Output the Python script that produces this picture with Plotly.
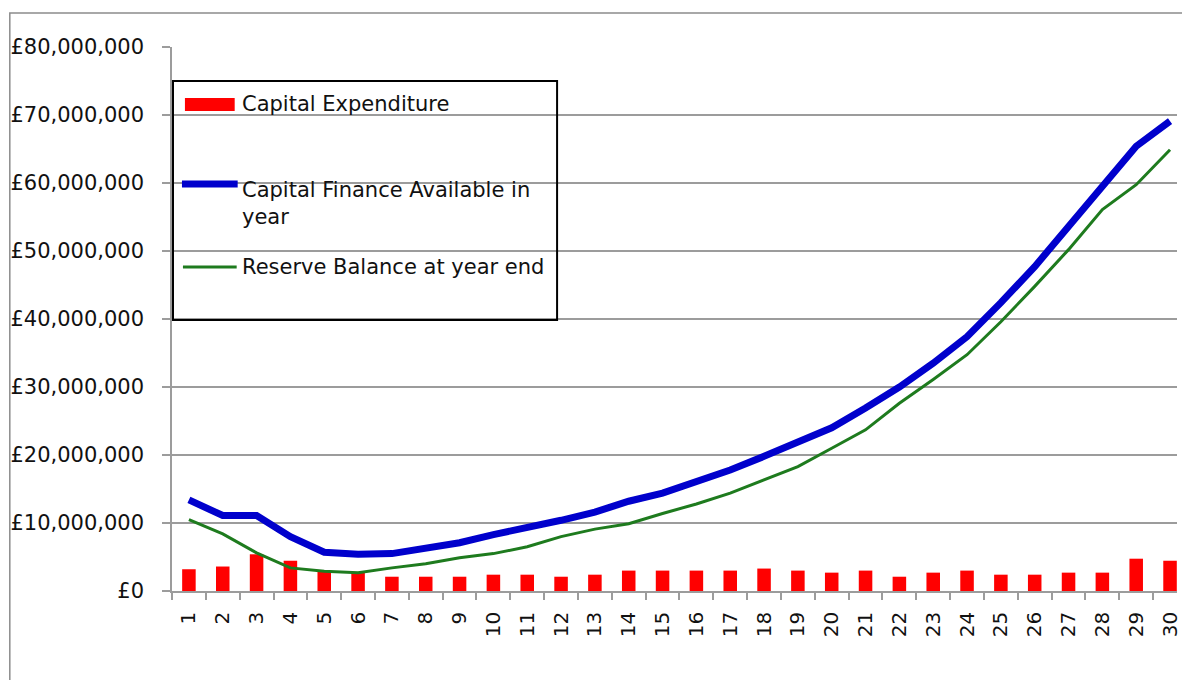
import plotly.graph_objects as go

# ---- data (values in £ millions) ----
years = [str(i) for i in range(1, 31)]
capital_expenditure = [3.2, 3.6, 5.4, 4.45, 2.8, 2.8, 2.1, 2.1, 2.1, 2.4,
                       2.4, 2.1, 2.4, 3.0, 3.0, 3.0, 3.0, 3.3, 3.0, 2.7,
                       3.0, 2.1, 2.7, 3.0, 2.4, 2.4, 2.7, 2.7, 4.75, 4.45]
capital_finance = [13.4, 11.1, 11.1, 8.0, 5.7, 5.4, 5.5, 6.2, 7.1, 8.3,
                   9.3, 10.4, 11.6, 13.2, 14.4, 16.0, 17.8, 19.8, 21.8, 24.0,
                   26.9, 30.0, 33.5, 37.4, 42.4, 47.7, 53.6, 59.5, 65.4, 69.1]
reserve_balance = [10.5, 8.4, 5.6, 3.4, 2.9, 2.7, 3.4, 4.0, 4.9, 5.5,
                   6.5, 8.0, 9.1, 9.9, 11.4, 12.8, 14.4, 16.4, 18.3, 21.0,
                   23.7, 27.6, 31.1, 34.75, 39.6, 44.8, 50.2, 56.1, 59.75, 64.9]
series_names = ["Capital Expenditure", "Capital Finance Available in<br>year",
                "Reserve Balance at year end"]

M = 1e6
FONT = "DejaVu Sans"
GRID = "#9c9c9c"

# plot-area geometry (pixels) used for placing the hand-made legend
L, R, T, B = 172, 1182, 47, 591


def px(x):
    return (x - L) / (R - L)


def py(y):
    return (B - y) / (B - T)


fig = go.Figure()
fig.add_trace(go.Bar(x=years, y=[v * M for v in capital_expenditure],
                     marker=dict(color="#ff0000", line=dict(width=0)),
                     name=series_names[0], showlegend=False))
fig.add_trace(go.Scatter(x=years, y=[v * M for v in capital_finance], mode="lines",
                         line=dict(color="#0000cc", width=7),
                         name=series_names[1], showlegend=False))
fig.add_trace(go.Scatter(x=years, y=[v * M for v in reserve_balance], mode="lines",
                         line=dict(color="#1e7b1e", width=3),
                         name=series_names[2], showlegend=False))

shapes = [
    # outer chart border
    dict(type="rect", xref="paper", yref="paper", x0=px(9), x1=px(1200),
         y0=py(700), y1=py(13), line=dict(color="#8c8c8c", width=1.5), layer="below"),
    # legend box
    dict(type="rect", xref="paper", yref="paper", x0=px(173), x1=px(559),
         y0=py(320), y1=py(81), line=dict(color="#000000", width=2), layer="above"),
    # legend symbols
    dict(type="rect", xref="paper", yref="paper", x0=px(185), x1=px(235),
         y0=py(111), y1=py(98), fillcolor="#ff0000", line=dict(width=0), layer="above"),
    dict(type="line", xref="paper", yref="paper", x0=px(182), x1=px(238),
         y0=py(184), y1=py(184), line=dict(color="#0000cc", width=7), layer="above"),
    dict(type="line", xref="paper", yref="paper", x0=px(183), x1=px(237),
         y0=py(267), y1=py(267), line=dict(color="#1e7b1e", width=3), layer="above"),
]

annotations = [
    dict(text=series_names[0], x=px(240), y=py(104)),
    dict(text=series_names[1], x=px(240), y=py(203)),
    dict(text=series_names[2], x=px(240), y=py(267)),
]
for a in annotations:
    a.update(xref="paper", yref="paper", xanchor="left", yanchor="middle",
             showarrow=False, align="left", font=dict(family=FONT, size=21, color="#111111"))

fig.update_layout(
    width=1182, height=680,
    margin=dict(l=L, r=1182 - R, t=T, b=680 - B),
    paper_bgcolor="white", plot_bgcolor="white",
    font=dict(family=FONT, size=21, color="#111111"),
    bargap=0.6,
    shapes=shapes,
    annotations=annotations,
    showlegend=False,
)
fig.update_yaxes(
    range=[0, 80 * M], dtick=10 * M, tickprefix="£", tickformat=",",
    showgrid=True, gridcolor=GRID, gridwidth=1.5,
    showline=True, linecolor=GRID, linewidth=1.5,
    ticks="outside", ticklen=8, tickcolor=GRID, tickwidth=1.5,
    ticklabelstandoff=14, zeroline=False,
    tickfont=dict(family=FONT, size=21, color="#111111"),
)
fig.update_xaxes(
    type="category", range=[-0.5, -0.5 + (R - L) / 34.0],
    tickson="boundaries", ticks="outside", ticklen=7, tickcolor=GRID, tickwidth=1.5,
    showline=True, linecolor=GRID, linewidth=1.5, showgrid=False,
    tickangle=-90, ticklabelstandoff=11,
    tickfont=dict(family=FONT, size=20, color="#111111"),
)

fig.write_html("out.html")
